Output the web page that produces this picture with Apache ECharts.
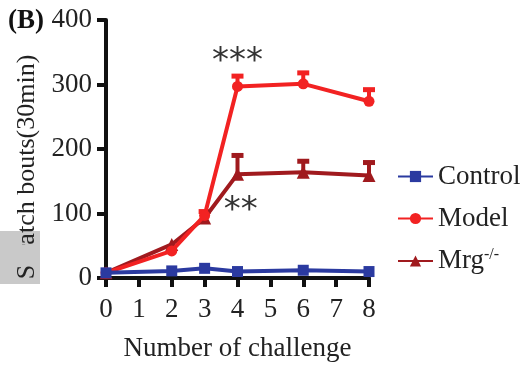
<!DOCTYPE html>
<html><head><meta charset="utf-8">
<script src="https://cdn.jsdelivr.net/npm/echarts@6/dist/echarts.min.js"></script>
<style>html,body{margin:0;padding:0;background:#fff}#c{width:524px;height:367px}</style>
</head><body><div id="c"></div>
<script>
const xValues = [0, 2, 3, 4, 6, 8];
const controlValues = [8, 11, 15, 10, 12, 10];
const modelValues = [8, 42, 97, 297, 301, 274];
const modelErrTop = [8, 44, 103, 313, 318, 292];
const mrgValues = [8, 52, 93, 161, 164, 159];
const mrgErrTop = [8, 54, 96, 190, 181, 179];
const controlErrTop = [8, 12, 16, 11, 13, 11];
const yTicks = [0, 100, 200, 300, 400];
const xTicks = [0, 1, 2, 3, 4, 5, 6, 7, 8];

const FONT = 'Liberation Serif';
const cBlue = '#2b3aa0', cRed = '#f22222', cDark = '#a01a1e';

function pairs(vals){ return xValues.map((x,i)=>[x, vals[i]]); }
function errData(vals, tops){ return xValues.map((x,i)=>[x, vals[i], tops[i]]); }
function errSeries(name, vals, tops, color){
  return {
    type:'custom', name: name+'_err', silent:true, z:3,
    data: errData(vals, tops),
    renderItem(params, api){
      const x = api.value(0);
      const p0 = api.coord([x, api.value(1)]);
      const p1 = api.coord([x, api.value(2)]);
      if (Math.abs(p0[1]-p1[1]) < 2) return null;
      return {type:'group', children:[
        {type:'line', shape:{x1:p0[0], y1:p0[1], x2:p1[0], y2:p1[1]}, style:{stroke:color, lineWidth:4}},
        {type:'line', shape:{x1:p1[0]-6, y1:p1[1], x2:p1[0]+6, y2:p1[1]}, style:{stroke:color, lineWidth:5}}
      ]};
    }
  };
}

const chart = echarts.init(document.getElementById('c'));
chart.setOption({
  animation:false,
  grid:{left:106, right:155, top:20, bottom:88, containLabel:false},
  xAxis:{
    type:'value', min:0, max:8, interval:1,
    name:'Number of challenge', nameLocation:'middle', nameGap:57,
    nameTextStyle:{fontFamily:FONT, fontSize:27, color:'#222'},
    axisLine:{lineStyle:{color:'#111', width:4}},
    axisTick:{length:9, lineStyle:{color:'#111', width:4}},
    axisLabel:{fontFamily:FONT, fontSize:27, color:'#222', margin:18, formatter:v=>xTicks.includes(v)?String(v):''},
    splitLine:{show:false}
  },
  yAxis:{
    type:'value', min:0, max:400, interval:100,
    axisLine:{show:true, lineStyle:{color:'#111', width:4}},
    axisTick:{show:true, length:9, lineStyle:{color:'#111', width:4}},
    axisLabel:{fontFamily:FONT, fontSize:27, color:'#222', margin:14, formatter:v=>yTicks.includes(v)?String(v):''},
    splitLine:{show:false}
  },
  legend:{
    orient:'vertical', left:392, top:158, itemWidth:35, itemHeight:14, itemGap:15,
    data:['Control','Model','Mrg'],
    textStyle:{fontFamily:FONT, fontSize:27, color:'#222',
      rich:{sup:{fontFamily:FONT, fontSize:16, color:'#222', verticalAlign:'top', padding:[0,0,12,0]}, n:{fontFamily:FONT, fontSize:27, color:'#222'}}},
    formatter:n=> n==='Mrg' ? '{n|Mrg}{sup|-/-}' : n
  },
  series:[
    errSeries('Control', controlValues, controlErrTop, cBlue),
    errSeries('Model', modelValues, modelErrTop, cRed),
    errSeries('Mrg', mrgValues, mrgErrTop, cDark),
    {name:'Mrg', type:'line', data:pairs(mrgValues), symbol:'triangle', symbolSize:13, z:4,
     lineStyle:{color:cDark, width:4}, itemStyle:{color:cDark},
     markPoint:{symbol:'circle', symbolSize:1, itemStyle:{color:'transparent'},
       label:{show:true, formatter:'**', fontFamily:'DejaVu Sans', fontSize:34, color:'#333', position:'inside'},
       data:[{coord:[4.1, 104]}]}},
    {name:'Model', type:'line', data:pairs(modelValues), symbol:'circle', symbolSize:11, z:5,
     lineStyle:{color:cRed, width:4}, itemStyle:{color:cRed},
     markPoint:{symbol:'circle', symbolSize:1, itemStyle:{color:'transparent'},
       label:{show:true, formatter:'***', fontFamily:'DejaVu Sans', fontSize:34, color:'#333', position:'inside'},
       data:[{coord:[4.0, 334]}]}},
    {name:'Control', type:'line', data:pairs(controlValues), symbol:'rect', symbolSize:11, z:6,
     lineStyle:{color:cBlue, width:4}, itemStyle:{color:cBlue}}
  ],
  graphic:[
    {type:'text', left:8, top:8, style:{text:'(B)', fontFamily:FONT, fontSize:27, fontWeight:'bold', fill:'#111'}},
    {type:'rect', shape:{x:0, y:231, width:40, height:53}, z:9, style:{fill:'#c9c9c9'}},
    {type:'text', x:27, y:167, rotation:Math.PI/2, z:10,
     style:{text:'Scratch bouts(30min)', fontFamily:FONT, fontSize:26, fill:'#222', align:'center', verticalAlign:'middle'}},
    {type:'rect', shape:{x:0, y:245, width:40, height:19}, z:11, style:{fill:'#c9c9c9'}}
  ]
});
</script></body></html>
